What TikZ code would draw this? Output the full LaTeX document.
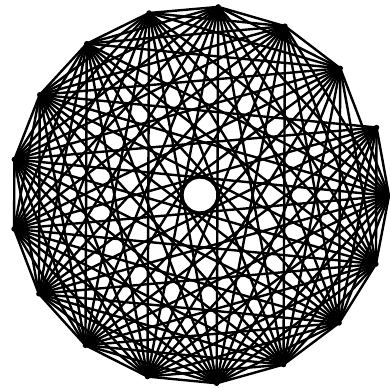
\documentclass[tikz,border=0pt]{standalone}
\begin{document}
\begin{tikzpicture}[x=1pt,y=-1pt,
  vert/.style={circle,fill=black,inner sep=0pt,minimum size=5.5pt},
  edge/.style={line width=2.4pt,line cap=round,black}]
\useasboundingbox (0,0) rectangle (390,388);
\fill[white] (0,0) rectangle (390,388);
\foreach \n in {1,...,17}{
  \pgfmathsetmacro\ang{-0.25-(\n-6)*360/17}
  \node[vert] (v\n) at ({200+189*cos(\ang)},{195-189*sin(\ang)}) {};
}
\foreach \i in {1,...,16}{
  \pgfmathtruncatemacro\s{\i+1}
  \foreach \j in {\s,...,17}{
    \pgfmathtruncatemacro\skipme{(\j==5 && \i<5) || (\i==5 && \j==17) ? 1 : 0}
    \ifnum\skipme=0 \draw[edge] (v\i.center) -- (v\j.center); \fi
  }
}
\end{tikzpicture}
\end{document}
